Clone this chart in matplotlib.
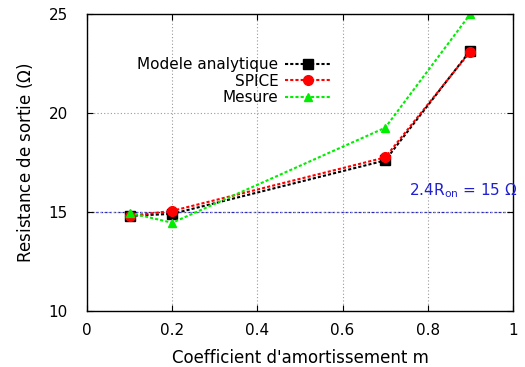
import matplotlib
matplotlib.use("Agg")
import matplotlib.pyplot as plt

plt.rcParams["font.family"] = "DejaVu Sans"
plt.rcParams["mathtext.fontset"] = "dejavusans"

m = [0.1, 0.2, 0.7, 0.9]
r_analytique = [14.8, 14.9, 17.6, 23.15]
r_spice = [14.8, 15.05, 17.75, 23.1]
r_mesure = [14.95, 14.45, 19.25, 25.0]
r_ref = 15.0

fig = plt.figure(figsize=(5.25, 3.67), dpi=100)
ax = fig.add_axes([0.166, 0.153, 0.811, 0.809])

ax.axhline(r_ref, color="#2020d0", linestyle=(0, (2, 1.5)), linewidth=0.9, zorder=1)
ax.plot(m, r_analytique, color="black", linestyle=(0, (1.5, 1)), linewidth=1.5,
        marker="s", markersize=7, label="Modele analytique")
ax.plot(m, r_spice, color="red", linestyle=(0, (1.5, 1)), linewidth=1.5,
        marker="o", markersize=7, label="SPICE")
ax.plot(m, r_mesure, color="#00ee00", linestyle=(0, (1.5, 1)), linewidth=1.5,
        marker="^", markersize=6, label="Mesure")

ax.text(1.01, 15.6, r"2.4R$_{\mathrm{on}}$ = 15 $\Omega$", color="#2020d0",
        fontsize=11, ha="right", va="bottom")

ax.set_xlim(0, 1)
ax.set_ylim(10, 25)
ax.set_xticks([0, 0.2, 0.4, 0.6, 0.8, 1])
ax.set_xticklabels(["0", "0.2", "0.4", "0.6", "0.8", "1"])
ax.set_yticks([10, 15, 20, 25])
ax.tick_params(direction="in", top=True, right=True, labelsize=11, length=4)
ax.tick_params(axis="x", pad=9)
ax.tick_params(axis="y", pad=14)
ax.grid(True, color="#999999", linestyle=(0, (1, 2)), linewidth=0.8)
ax.set_xlabel("Coefficient d'amortissement m", fontsize=12, labelpad=8)
ax.set_ylabel(r"Resistance de sortie ($\Omega$)", fontsize=12, labelpad=10)

ax.legend(loc="upper left", bbox_to_anchor=(0.1, 0.88), markerfirst=False,
          frameon=False, fontsize=11, handlelength=3.0, labelspacing=0.1,
          borderpad=0, handletextpad=0.4)
for s in ax.spines.values():
    s.set_linewidth(1.0)

fig.savefig("out.png", dpi=100)
